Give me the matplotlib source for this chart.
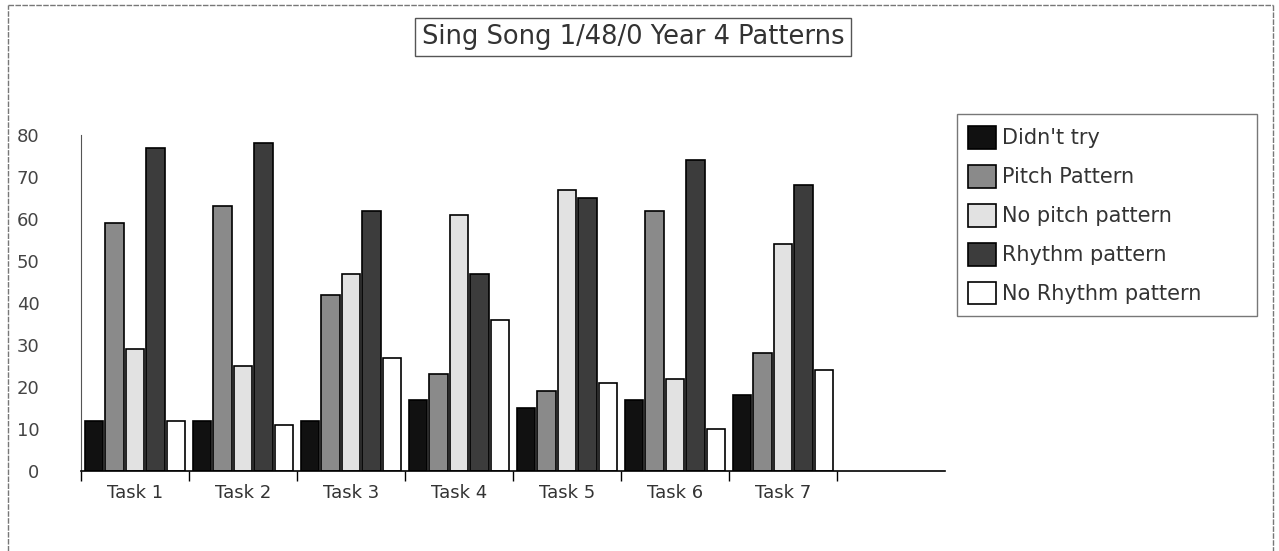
import matplotlib.pyplot as plt
import numpy as np
from matplotlib.lines import Line2D

plt.rcParams['font.family'] = ['DejaVu Sans']

# data
tasks = ['Task 1', 'Task 2', 'Task 3', 'Task 4', 'Task 5', 'Task 6', 'Task 7']
series = ["Didn't try", 'Pitch Pattern', 'No pitch pattern', 'Rhythm pattern', 'No Rhythm pattern']
didnt_try = [12, 12, 12, 17, 15, 17, 18]
pitch = [59, 63, 42, 23, 19, 62, 28]
no_pitch = [29, 25, 47, 61, 67, 22, 54]
rhythm = [77, 78, 62, 47, 65, 74, 68]
no_rhythm = [12, 11, 27, 36, 21, 10, 24]

values = [didnt_try, pitch, no_pitch, rhythm, no_rhythm]
colors = ['#111111', '#8a8a8a', '#e2e2e2', '#3c3c3c', '#ffffff']

fig = plt.figure(figsize=(12.79, 5.51), dpi=100)
ax = fig.add_axes([81 / 1279, 1 - 471 / 551, (945 - 81) / 1279, (471 - 135) / 551])

x = np.arange(len(tasks)) + 0.5
bw = 0.19
for i, (vals, c) in enumerate(zip(values, colors)):
    ax.bar(x + (i - 2) * bw, vals, width=bw * 0.9, color=c, edgecolor='black',
           linewidth=1.2, label=series[i])

ax.set_xlim(0, 8)
ax.set_ylim(0, 80)
ax.set_yticks(range(0, 81, 10))
ax.tick_params(axis='y', length=0, pad=30, labelsize=13, labelcolor='#444444')

# category boundary ticks, labels centered in each slot
ax.set_xticks(range(0, 8))
ax.set_xticklabels([])
ax.set_xticks(x, minor=True)
ax.set_xticklabels(tasks, minor=True)
ax.tick_params(axis='x', which='major', length=7, direction='out', width=1)
ax.tick_params(axis='x', which='minor', length=0, pad=9, labelsize=13, labelcolor='#333333')

for s in ['top', 'right']:
    ax.spines[s].set_visible(False)
ax.spines['left'].set_color('#555555')
ax.spines['bottom'].set_linewidth(1.2)

leg = ax.legend(loc='upper left', bbox_to_anchor=(957 / 1279, 1 - 120 / 551, 300 / 1279, 0.01),
                bbox_transform=fig.transFigure, mode='expand', frameon=True, fancybox=False,
                fontsize=15, handlelength=1.3, handleheight=1.3,
                labelspacing=0.78, borderpad=0.55, handletextpad=0.3, borderaxespad=0)
leg.get_frame().set_edgecolor('#555555')
leg.get_frame().set_linewidth(1.0)
for t in leg.get_texts():
    t.set_color('#333333')

fig.text(633 / 1279, 1 - 37 / 551, 'Sing Song 1/48/0 Year 4 Patterns', ha='center', va='center',
         fontsize=18.5, color='#333333',
         bbox=dict(boxstyle='square,pad=0.25', facecolor='white', edgecolor='#555555', linewidth=1.0))

# border of the scanned page
for xs, ys in [([8, 8], [0, 546]), ([8, 1273], [546, 546]), ([1273, 1273], [546, 0])]:
    fig.add_artist(Line2D([v / 1279 for v in xs], [v / 551 for v in ys],
                          color='#777777', linewidth=1.0, linestyle=(0, (4, 1))))

fig.savefig('out.png', dpi=100)
